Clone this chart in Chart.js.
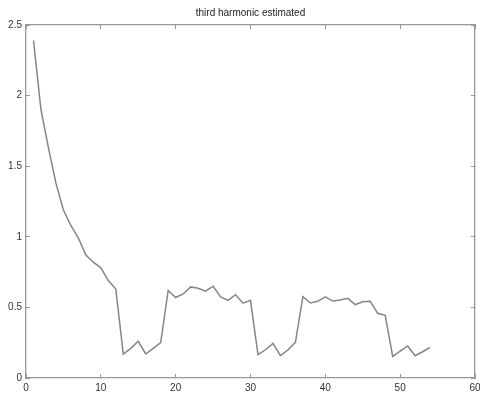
<!DOCTYPE html>
<html>
<head>
<meta charset="utf-8">
<script src="https://cdn.jsdelivr.net/npm/chart.js@4"></script>
<style>
  html, body { margin: 0; padding: 0; background: #fff; }
  #wrap { width: 480px; height: 396px; }
</style>
</head>
<body>
<div id="wrap"><canvas id="myChart" width="480" height="396"></canvas></div>
<script>
// sample index and estimated third harmonic amplitude
const samples = [1, 2, 3, 4, 5, 6, 7, 8, 9, 10, 11, 12, 13, 14, 15, 16, 17, 18,
  19, 20, 21, 22, 23, 24, 25, 26, 27, 28, 29, 30, 31, 32, 33, 34, 35, 36,
  37, 38, 39, 40, 41, 42, 43, 44, 45, 46, 47, 48, 49, 50, 51, 52, 53, 54];
const estimates = [2.39, 1.9, 1.63, 1.38, 1.19, 1.08, 0.99, 0.87, 0.82, 0.78, 0.69, 0.63,
  0.17, 0.21, 0.26, 0.17, 0.21, 0.25,
  0.62, 0.57, 0.595, 0.645, 0.635, 0.615, 0.65, 0.575, 0.55, 0.59, 0.53, 0.55,
  0.165, 0.2, 0.245, 0.158, 0.198, 0.253,
  0.576, 0.531, 0.543, 0.574, 0.545, 0.552, 0.564, 0.52, 0.54, 0.543, 0.458, 0.444,
  0.153, 0.19, 0.227, 0.158, 0.186, 0.217];
const xTicks = [0, 10, 20, 30, 40, 50, 60];
const yTicks = [0, 0.5, 1, 1.5, 2, 2.5];
const chartTitle = 'third harmonic estimated';

const points = samples.map((x, i) => ({ x: x, y: estimates[i] }));

const data = {
  datasets: [{
    label: 'estimate',
    data: points,
    borderColor: '#858585',
    borderWidth: 1.5,
    pointRadius: 0,
    fill: false,
    tension: 0
  }]
};

const tickFont = { family: 'Liberation Sans, Arial, sans-serif', size: 10 };
const boxColor = '#999999';

// shared look for the four sides of the box; ticks point inward
function side(pos, values, showLabels, size) {
  const horizontal = pos === 'top' || pos === 'bottom';
  return {
    type: 'linear',
    position: pos,
    min: 0,
    max: horizontal ? 60 : 2.5,
    afterBuildTicks: s => { s.ticks = values.map(v => ({ value: v })); },
    afterFit: s => {
      if (horizontal) s.height = size; else s.width = size;
      s.paddingLeft = 0; s.paddingRight = 0; s.paddingTop = 0; s.paddingBottom = 0;
    },
    grid: { drawOnChartArea: false, drawTicks: true, tickLength: -4, tickColor: boxColor, tickWidth: 1 },
    border: { display: true, color: boxColor, width: 1.3 },
    ticks: {
      display: showLabels,
      color: '#333',
      font: tickFont,
      padding: 8,
      maxRotation: 0,
      callback: v => String(v)
    }
  };
}

const config = {
  type: 'line',
  data: data,
  options: {
    responsive: false,
    animation: false,
    layout: { padding: { left: 0, right: 5, top: 0, bottom: 0 } },
    plugins: {
      legend: { display: false },
      tooltip: { enabled: false },
      title: {
        display: true,
        text: chartTitle,
        fullSize: false,
        color: '#222',
        font: { family: 'Liberation Sans, Arial, sans-serif', size: 10, weight: 'normal' },
        padding: { top: 7, bottom: 6 }
      }
    },
    scales: {
      x: side('bottom', xTicks, true, 18),
      x2: side('top', xTicks, false, 0),
      y: side('left', yTicks, true, 26),
      y2: side('right', yTicks, false, 0)
    }
  }
};

const ctx = document.getElementById('myChart').getContext('2d');
const myChart = new Chart(ctx, config);
</script>
</body>
</html>
